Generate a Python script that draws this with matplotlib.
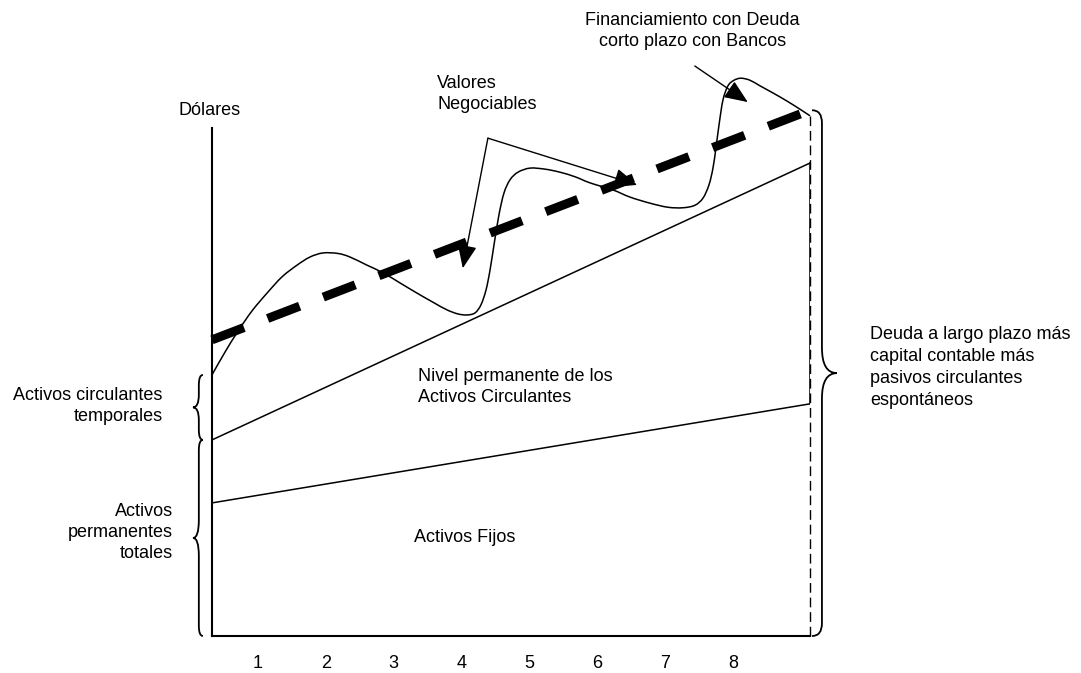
"""Esquema: financiamiento de activos permanentes y temporales
Diagrama de Dólares vs. periodo con curva de activos totales
"""

import matplotlib.pyplot as plt
from matplotlib.path import Path
from matplotlib.patches import PathPatch

plt.rcParams["font.family"] = ["Liberation Sans", "DejaVu Sans"]
plt.rcParams["font.size"] = 13

# Periods on the x axis
periods = [1, 2, 3, 4, 5, 6, 7, 8]
period_labels = ["1", "2", "3", "4", "5", "6", "7", "8"]
t_start, t_end = 0.324, 9.137

# Straight levels (dollars) at start and end of the horizon
fixed_assets = [2.62, 4.57]          # Activos Fijos
permanent_current = [3.86, 9.31]     # Nivel permanente de los activos circulantes
long_term_financing = [5.83, 10.35]  # línea punteada gruesa

# Total assets curve
curve_t = [0.324, 0.516, 0.707, 0.914, 1.135, 1.356, 1.577, 1.768, 1.960, 2.181,
           2.358, 2.608, 2.844, 3.095, 3.345, 3.581, 3.787, 3.949, 4.082, 4.200,
           4.288, 4.362, 4.421, 4.480, 4.553, 4.627, 4.716, 4.833, 5.010, 5.231,
           5.452, 5.674, 5.895, 6.234, 6.484, 6.779, 7.044, 7.265, 7.442, 7.560,
           7.648, 7.707, 7.751, 7.796, 7.854, 7.928, 8.017, 8.120, 8.252, 8.400,
           8.591, 8.798, 8.989, 9.137]
curve_y = [5.14, 5.59, 6.00, 6.40, 6.75, 7.07, 7.30, 7.46, 7.54, 7.53,
           7.46, 7.30, 7.15, 6.95, 6.75, 6.57, 6.42, 6.34, 6.32, 6.36,
           6.52, 6.81, 7.20, 7.70, 8.29, 8.72, 8.98, 9.13, 9.21, 9.19,
           9.13, 9.04, 8.92, 8.78, 8.64, 8.52, 8.44, 8.43, 8.48, 8.62,
           8.88, 9.21, 9.61, 10.06, 10.55, 10.83, 10.94, 10.98, 10.94, 10.83,
           10.69, 10.53, 10.37, 10.24]


def smooth_path(xs, ys):
    """Bezier path passing through the given points (Catmull-Rom handles)."""
    pts = list(zip(xs, ys))
    verts = [pts[0]]
    codes = [Path.MOVETO]
    n = len(pts)
    for i in range(n - 1):
        p0 = pts[max(i - 1, 0)]
        p1 = pts[i]
        p2 = pts[i + 1]
        p3 = pts[min(i + 2, n - 1)]
        c1 = (p1[0] + (p2[0] - p0[0]) / 6, p1[1] + (p2[1] - p0[1]) / 6)
        c2 = (p2[0] - (p3[0] - p1[0]) / 6, p2[1] - (p3[1] - p1[1]) / 6)
        verts += [c1, c2, p2]
        codes += [Path.CURVE4] * 3
    return Path(verts, codes)


def brace(ax, x_end, x_arm, x_tip, y0, y1, r_end, r_tip):
    """Curly brace between y0 (bottom) and y1 (top)."""
    ym = (y0 + y1) / 2
    verts = [
        (x_end, y1), (x_arm, y1), (x_arm, y1 - r_end),
        (x_arm, ym + r_tip), (x_arm, ym), (x_tip, ym),
        (x_arm, ym), (x_arm, ym - r_tip),
        (x_arm, y0 + r_end), (x_arm, y0), (x_end, y0),
    ]
    codes = [
        Path.MOVETO, Path.CURVE3, Path.CURVE3,
        Path.LINETO, Path.CURVE3, Path.CURVE3,
        Path.CURVE3, Path.CURVE3,
        Path.LINETO, Path.CURVE3, Path.CURVE3,
    ]
    ax.add_patch(PathPatch(Path(verts, codes), fill=False, lw=1.3,
                           color="black", clip_on=False))


fig = plt.figure(figsize=(10.81, 6.73), dpi=100)
ax = fig.add_axes([212 / 1081, 37 / 673, 598 / 1081, 508 / 673])
ax.set_xlim(t_start, t_end)
ax.set_ylim(0, 10)

for side in ["top", "right"]:
    ax.spines[side].set_visible(False)
for side in ["left", "bottom"]:
    ax.spines[side].set_linewidth(1.5)
ax.set_yticks([])
ax.set_xticks(periods)
ax.set_xticklabels(period_labels)
ax.tick_params(axis="x", length=0, pad=14)

# Levels
ax.plot([t_start, t_end], fixed_assets, color="black", lw=1.1)
ax.plot([t_start, t_end], permanent_current, color="black", lw=1.1)
ax.plot([t_end, t_end], [fixed_assets[1], permanent_current[1]], color="black", lw=1.1)
ax.plot([t_end, t_end], [0, curve_y[-1]], color="black", lw=1.0,
        dashes=(7, 3.5), clip_on=False)

# Total assets curve
ax.add_patch(PathPatch(smooth_path(curve_t, curve_y), fill=False, lw=1.1,
                       color="black", clip_on=False))

# Thick dashed line
ax.plot([t_start, t_end], long_term_financing, color="black", lw=6.5,
        dashes=(3.8, 2.8), solid_capstyle="butt", dash_capstyle="butt",
        clip_on=False, zorder=3)

# Annotations with arrows
head = dict(arrowstyle="-|>,head_length=0.6,head_width=0.25", mutation_scale=24,
            color="black", lw=1.0, shrinkA=0, shrinkB=0)
ax.annotate("", xy=(4.02, 7.24), xytext=(4.39, 9.80), arrowprops=head,
            annotation_clip=False, zorder=4)
ax.annotate("", xy=(6.59, 8.88), xytext=(4.39, 9.80), arrowprops=head,
            annotation_clip=False, zorder=4)
ax.annotate("", xy=(8.22, 10.51), xytext=(7.44, 11.22), arrowprops=head,
            annotation_clip=False, zorder=4)

ax.text(3.64, 10.67, "Valores\nNegociables", ha="left", va="center",
        linespacing=1.3)
ax.text(7.40, 11.91, "Financiamiento con Deuda\ncorto plazo con Bancos",
        ha="center", va="center", linespacing=1.3)
ax.text(0.295, 10.35, "Dólares", ha="center", va="center")
ax.text(3.36, 4.90, "Nivel permanente de los\nActivos Circulantes", ha="left",
        va="center", linespacing=1.3)
ax.text(4.05, 1.93, "Activos Fijos", ha="center", va="center")
ax.text(-0.40, 4.53, "Activos circulantes\ntemporales", ha="right", va="center",
        linespacing=1.3)
ax.text(-0.25, 2.03, "Activos\npermanentes\ntotales", ha="right", va="center",
        linespacing=1.3)
ax.text(10.02, 5.28, "Deuda a largo plazo más\ncapital contable más\n"
        "pasivos circulantes\nespontáneos", ha="left", va="center",
        linespacing=1.38)

# Braces
brace(ax, 0.19, 0.13, 0.044, permanent_current[0], curve_y[0], 0.2, 0.25)
brace(ax, 0.19, 0.13, 0.044, 0, permanent_current[0], 0.2, 0.35)
brace(ax, 9.166, 9.313, 9.534, 0, long_term_financing[1], 0.25, 0.5)

plt.savefig("out.png", dpi=100)
